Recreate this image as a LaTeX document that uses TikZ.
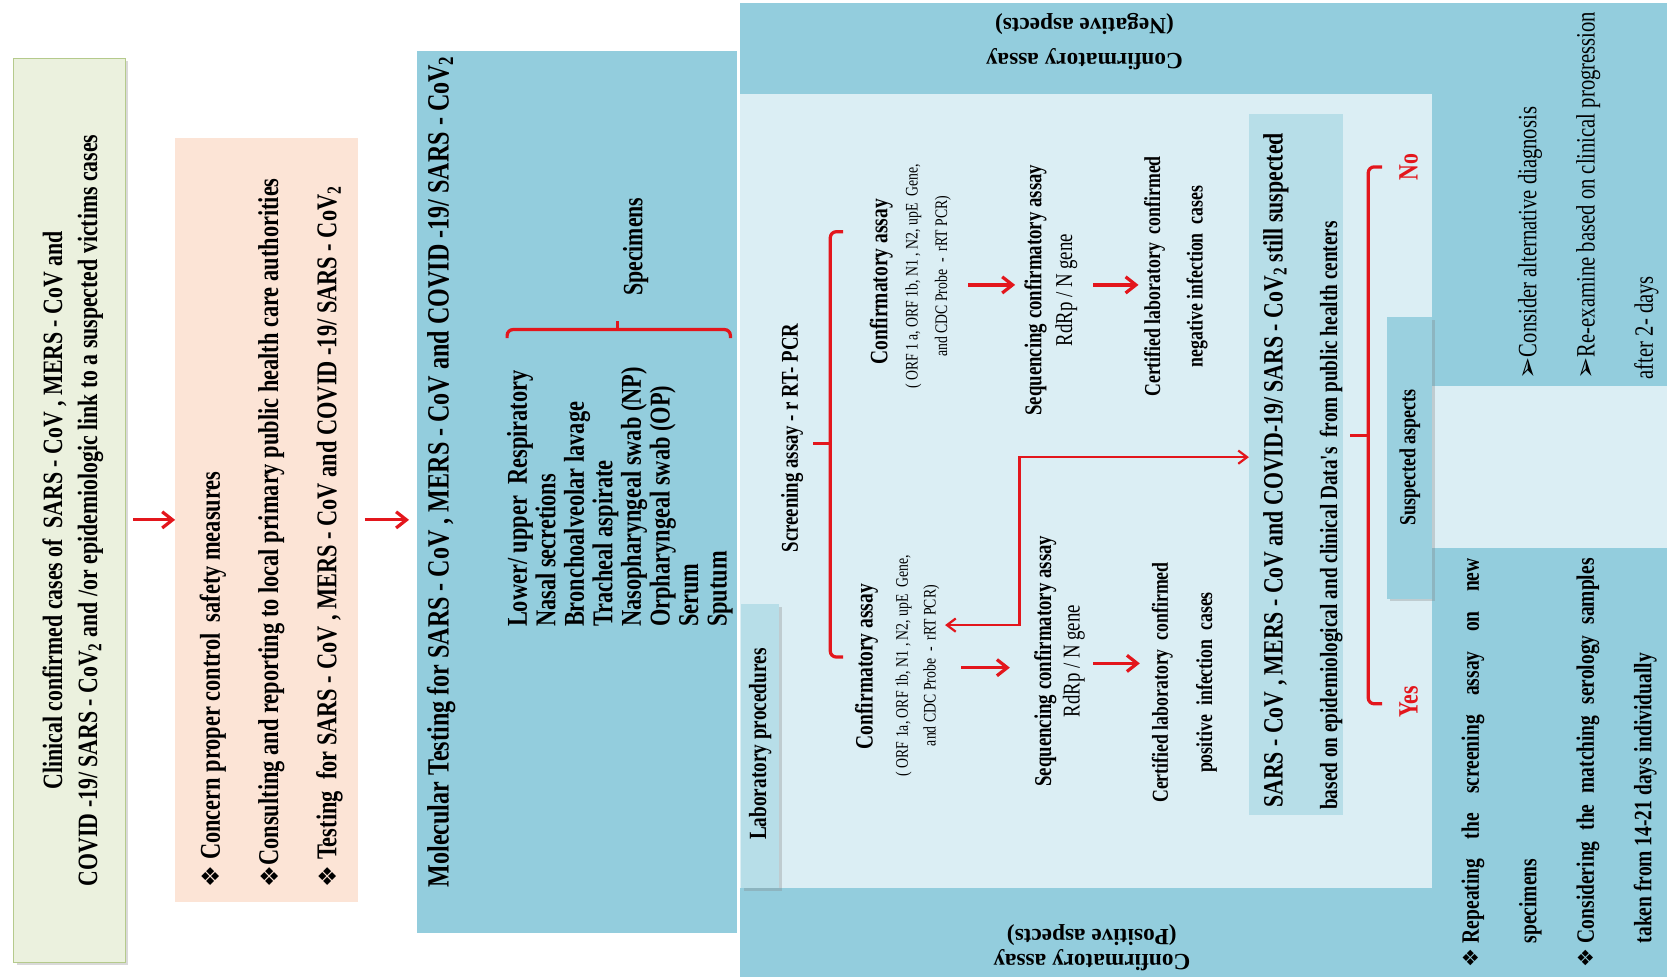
\documentclass[tikz,border=0pt]{standalone}
\usepackage{fontspec}
\setmainfont{Liberation Serif}
\newfontfamily\narrowfont{Liberation Serif}[FakeStretch=0.78]
\newfontfamily\symfont{DejaVu Sans}
\usetikzlibrary{arrows.meta,shadows}
\definecolor{casegreen}{HTML}{EBF1DE}
\definecolor{caseedge}{HTML}{B5CA8C}
\definecolor{peach}{HTML}{FCE4D6}
\definecolor{aqua}{HTML}{93CDDD}
\definecolor{palesky}{HTML}{DBEEF4}
\definecolor{midsky}{HTML}{B7DEE8}
\definecolor{alertred}{HTML}{E3161C}
\newcommand{\fsz}[2]{\fontsize{#1}{#2}\selectfont}
\newcommand{\dmd}{\scalebox{0.85}{\symfont ❖}}
\newcommand{\arw}{{\symfont ➢}}

\begin{document}
\begin{tikzpicture}[x=1in,y=1in,
  vtxt/.style 2 args={rotate=90, inner sep=0pt, font=\narrowfont\bfseries\fsz{#1}{#2}},
  vreg/.style 2 args={rotate=90, inner sep=0pt, font=\narrowfont\fsz{#1}{#2}},
  bandtxt/.style 2 args={rotate=180, inner sep=0pt, align=center, font=\bfseries\fsz{#1}{#2}},
  panel/.style={inner sep=0pt, draw=none},
  boxshadow/.style={drop shadow={shadow xshift=2pt, shadow yshift=-2pt, opacity=0.3}},
  redarrow/.style={alertred, line width=2.2pt, -{Straight Barb[length=7pt,width=11pt]}},
  joinline/.style={alertred, line width=1.5pt, {Straight Barb[length=6pt,width=9pt]}-{Straight Barb[length=6pt,width=9pt]}},
  brc/.style={alertred, line width=2.2pt, rounded corners=4pt}]
\useasboundingbox (0,0) rectangle (15.68,9.19);

% cases, control measures and molecular testing
\node[panel, fill=casegreen, draw=caseedge, line width=0.8pt, boxshadow, minimum width=1.05in, minimum height=8.50in] (cases) at (0.655,4.39) {};
\node[vtxt={19}{23.8}, align=center] (casestxt) at (0.685,4.39) {Clinical confirmed cases of \ SARS - CoV , MERS - CoV and\\COVID -19/ SARS - CoV\textsubscript{2} and /or epidemiologic link to a suspected victims cases};

\node[panel, fill=peach, minimum width=1.72in, minimum height=7.18in] (control) at (2.51,4.30) {};
\node[vtxt={19.5}{39.6}, anchor=west, align=left] (controltxt) at (2.55,0.84) {\dmd\ Concern proper control \ safety measures\\\dmd Consulting and reporting to local primary public health care authorities\\\dmd\ Testing \ for SARS - CoV , MERS - CoV and COVID -19/ SARS - CoV\textsubscript{2}};

\node[panel, fill=aqua, minimum width=3.01in, minimum height=8.30in] (molecular) at (5.425,4.56) {};
\node[vtxt={21}{24}, anchor=west] (moltitle) at (4.15,0.84) {Molecular Testing for SARS - CoV , MERS - CoV and COVID -19/ SARS - CoV\textsubscript{2}};
\node[vtxt={19.5}{19.4}, anchor=west, align=left] (samples) at (5.83,3.29) {Lower/ upper \ Respiratory\\Nasal secretions\\Bronchoalveolar lavage\\Tracheal aspirate\\Nasopharyngeal swab (NP)\\Orpharyngeal swab (OP)\\Serum\\Sputum};
\node[vtxt={19}{24}] (spectxt) at (5.98,6.87) {Specimens};
\draw[brc] (4.77,6.01) |- (6.87,6.09) -- (6.87,6.01);
\draw[brc] (5.81,6.09) -- (5.81,6.17);

\draw[redarrow, shorten <=0.07in] (cases.east |- control) -- (control.west);
\draw[redarrow, shorten <=0.06in, shorten >=0.07in] (control.east) -- (control.east -| molecular.west);

% laboratory block
\fill[aqua] (6.96,0) rectangle (15.68,9.16);
\fill[palesky] (6.96,0.84) rectangle (13.47,8.31);
\fill[palesky] (13.47,4.04) rectangle (15.68,5.56);
\node[bandtxt={15.8}{23.8}] (negband) at (10.20,8.795) {Confirmatory assay\\(Negative aspects)};
\node[bandtxt={15.8}{16.6}] (posband) at (10.27,0.275) {Confirmatory assay\\(Positive aspects)};

\node[panel, fill=midsky, boxshadow, minimum width=0.36in, minimum height=2.67in] (labproc) at (7.15,2.175) {};
\node[vtxt={16.8}{20}] (labtxt) at (7.15,2.19) {Laboratory procedures};

\node[vtxt={16.4}{20}] (screen) at (7.45,5.07) {Screening assay - r RT- PCR};
\draw[brc] (7.93,7.01) -| (7.81,3.01) -- (7.93,3.01);
\draw[brc] (7.81,5.02) -- (7.65,5.02);

\node[vtxt={17}{20}] (confneg) at (8.29,6.54) {Confirmatory assay};
\node[vreg={12}{20}, align=center] (orfneg) at (8.73,6.59) {( ORF 1 a, ORF 1b, N1 , N2, upE \ Gene,\\and CDC Probe \ - \ rRT PCR)};
\node[vtxt={16.4}{20.9}, align=center] (seqneg) at (9.885,6.46) {Sequencing confirmatory assay\\{\mdseries RdRp / N gene}};
\node[vtxt={15.5}{28.8}, align=center] (certneg) at (11.06,6.59) {Certified laboratory \ confirmed\\negative infection \ cases};
\draw[redarrow, shorten <=0.16in, shorten >=0.085in] (orfneg.south |- 0,6.51) -- (seqneg.north |- 0,6.51);
\draw[redarrow, shorten <=0.145in, shorten >=0.05in] (seqneg.south |- 0,6.51) -- (certneg.north |- 0,6.51);

\node[vtxt={17}{20}] (confpos) at (8.15,2.92) {Confirmatory assay};
\node[vreg={12}{19}, align=center] (orfpos) at (8.63,2.93) {( ORF 1a, ORF 1b, N1 , N2, upE \ Gene,\\and CDC Probe \ - \ rRT PCR)};
\node[vtxt={16.4}{19.4}, align=center] (seqpos) at (9.965,2.97) {Sequencing confirmatory assay\\{\mdseries RdRp / N gene}};
\node[vtxt={15.5}{30}, align=center] (certpos) at (11.14,2.77) {Certified laboratory \ confirmed\\positive \ infection \ cases};
\draw[redarrow, shorten <=0.20in, shorten >=0.225in] (orfpos.south |- 0,2.91) -- (seqpos.north |- 0,2.91);
\draw[redarrow, shorten <=0.075in, shorten >=0.11in] (seqpos.south |- 0,2.95) -- (certpos.north |- 0,2.95);

\node[panel, fill=midsky, minimum width=0.88in, minimum height=6.60in] (sars) at (12.19,4.82) {};
\node[vtxt={19}{24}, anchor=west] (sarsline) at (12.00,1.59) {SARS - CoV , MERS - CoV and COVID-19/ SARS - CoV\textsubscript{2} still suspected};
\node[vtxt={16.8}{20}, anchor=west] (sarsdata) at (12.52,1.57) {based on epidemiological and clinical Data's \ from public health centers};

\coordinate (turn) at (9.59,4.89);
\draw[joinline, shorten <=0.05in] (orfpos.south |- 0,3.31) -| (turn) -- (sars.west |- turn);

\draw[brc] (13.00,7.62) -| (12.87,2.57) -- (13.00,2.57);
\draw[brc] (12.87,5.09) -- (12.70,5.09);
\node[vtxt={19}{24}, text=alertred] (no) at (13.25,7.62) {No};
\node[vtxt={19}{24}, text=alertred] (yes) at (13.25,2.59) {Yes};

\node[panel, fill=aqua!80!midsky, boxshadow, minimum width=0.42in, minimum height=2.65in] (suspect) at (13.26,4.885) {};
\node[vtxt={15.6}{20}] (susptxt) at (13.26,4.885) {Suspected aspects};

\node[vreg={18}{39.6}, anchor=west, align=left] (advice) at (14.94,5.62) {\arw Consider alternative diagnosis\\\arw Re-examine based on clinical progression\\after 2- days};
\node[vtxt={17}{39.1}, anchor=west, align=left] (repeat) at (14.665,0.09) {\dmd\ \makebox[3.62in][s]{Repeating the screening assay on new}\\\phantom{\dmd\ }specimens\\\dmd\ \makebox[3.62in][s]{Considering the matching serology samples}\\\phantom{\dmd\ }taken from 14-21 days individually};
\end{tikzpicture}
\end{document}
